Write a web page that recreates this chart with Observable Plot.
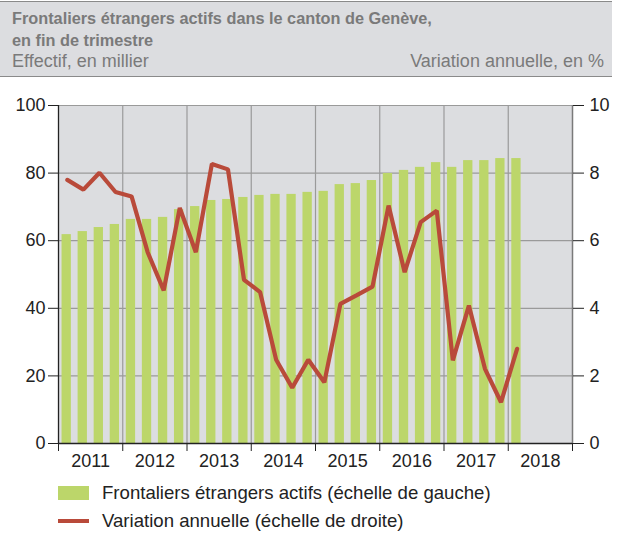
<!DOCTYPE html>
<html>
<head>
<meta charset="utf-8">
<script src="https://cdn.jsdelivr.net/npm/d3@7"></script>
<script src="https://cdn.jsdelivr.net/npm/@observablehq/plot@0.6"></script>
<style>
  body { margin: 0; background: #fff; font-family: "Liberation Sans", Arial, sans-serif; }
  #wrap { position: relative; width: 620px; height: 533px; }
  #header { position: absolute; left: 0; top: 1px; width: 612px; height: 74px;
            background: #dcdde0; border-top: 1.5px solid #8a8a8a; border-bottom: 1.5px solid #8a8a8a; color: #7a7a7a; }
  #t1 { position: absolute; left: 12px; top: 5px; font-weight: bold; font-size: 16.3px; line-height: 22px; }
  #sl { position: absolute; left: 12px; top: 49px; font-size: 18px; }
  #sr { position: absolute; right: 8px; top: 49px; font-size: 18px; }
  #chart { position: absolute; left: 0; top: 80px; }
  .leg { position: absolute; left: 58px; font-size: 18.6px; color: #222; display: flex; align-items: center; }
  .sw { width: 31px; margin-right: 13px; }
</style>
</head>
<body>
<div id="wrap">
  <div id="header">
    <div id="t1">Frontaliers étrangers actifs dans le canton de Genève,<br>en fin de trimestre</div>
    <div id="sl">Effectif, en millier</div>
    <div id="sr">Variation annuelle, en %</div>
  </div>
  <div id="chart"></div>
  <div class="leg" style="top:482px;height:22px;"><div class="sw" style="height:14px;background:#bcd66a;"></div>Frontaliers étrangers actifs (échelle de gauche)</div>
  <div class="leg" style="top:510px;height:22px;"><div class="sw" style="height:4px;background:#b94a3a;"></div>Variation annuelle (échelle de droite)</div>
</div>
<script>
// Quarters 2011 T1 .. 2018 T1
const quarters = ["2011T1","2011T2","2011T3","2011T4","2012T1","2012T2","2012T3","2012T4",
  "2013T1","2013T2","2013T3","2013T4","2014T1","2014T2","2014T3","2014T4",
  "2015T1","2015T2","2015T3","2015T4","2016T1","2016T2","2016T3","2016T4",
  "2017T1","2017T2","2017T3","2017T4","2018T1"];
// Effectif, en millier (left scale)
const effectif = [61.8,62.7,63.9,64.8,66.3,66.3,66.9,69.2,
  70.1,71.9,72.2,72.8,73.4,73.7,73.7,74.3,
  74.6,76.6,76.9,77.8,79.9,80.8,81.7,83.1,
  81.7,83.7,83.7,84.3,84.3];
// Variation annuelle, en % (right scale)
const variation = [7.80,7.51,8.01,7.44,7.31,5.66,4.53,6.97,
  5.66,8.27,8.11,4.84,4.48,2.48,1.65,2.48,
  1.81,4.13,4.38,4.64,7.04,5.07,6.55,6.89,
  2.46,4.08,2.21,1.22,2.80];
const years = ["2011","2012","2013","2014","2015","2016","2017","2018"];
const leftTicks = [0,20,40,60,80,100];
const rightTicks = [0,2,4,6,8,10];

const rows = quarters.map((q,i) => ({q, i, eff: effectif[i], varPct: variation[i]}));
const ratio = 10; // right scale 0-10 maps onto left 0-100
const yearStarts = years.map((y,k) => k*4).concat([years.length*4]);
const yearCenters = years.map((y,k) => k*4 + 2);

const grid = "#9a9a9a";
const dark = "#222";

const chart = Plot.plot({
  width: 620,
  height: 400,
  marginLeft: 58,
  marginRight: 48,
  marginTop: 25,
  marginBottom: 37,
  style: {fontFamily: "'Liberation Sans', Arial, sans-serif", fontSize: "18px", color: dark, background: "transparent"},
  x: {type: "linear", domain: [0, years.length*4], axis: null},
  y: {domain: [0, 100], axis: null},
  marks: [
    Plot.frame({fill: "#dcdde0", stroke: null}),
    Plot.ruleY(leftTicks.filter(d => d > 0), {stroke: grid, strokeWidth: 1.2}),
    Plot.ruleX(yearStarts.slice(1, -1), {stroke: grid, strokeWidth: 1.2}),
    Plot.rectY(rows, {x1: d => d.i + 0.22, x2: d => d.i + 0.8, y1: 0, y2: "eff", fill: "#bcd66a"}),
    Plot.line(rows, {x: d => d.i + 0.55, y: d => d.varPct * ratio, stroke: "#b94a3a", strokeWidth: 4.2, strokeLinejoin: "miter"}),
    Plot.ruleX([years.length*4], {stroke: "#7a7a7a", strokeWidth: 1.5}),
    Plot.ruleX([0], {stroke: dark, strokeWidth: 1.3}),
    Plot.ruleY([0], {stroke: dark, strokeWidth: 1.3}),
    Plot.axisY({anchor: "left", label: null, ticks: leftTicks, tickSize: 10, tickPadding: 3, stroke: dark, fill: dark, fontSize: 18}),
    Plot.axisY({anchor: "right", label: null, ticks: rightTicks.map(d => d*ratio), tickFormat: d => String(d/ratio), tickSize: 11, tickPadding: 6, stroke: dark, fill: dark, fontSize: 18}),
    Plot.axisX({label: null, ticks: yearStarts, tickFormat: () => "", tickSize: 8, stroke: dark}),
    Plot.axisX({label: null, ticks: yearCenters, tickFormat: d => years[(d-2)/4], tickSize: 0, tickPadding: 11, fill: dark, fontSize: 18})
  ]
});
document.getElementById("chart").append(chart);
</script>
</body>
</html>
